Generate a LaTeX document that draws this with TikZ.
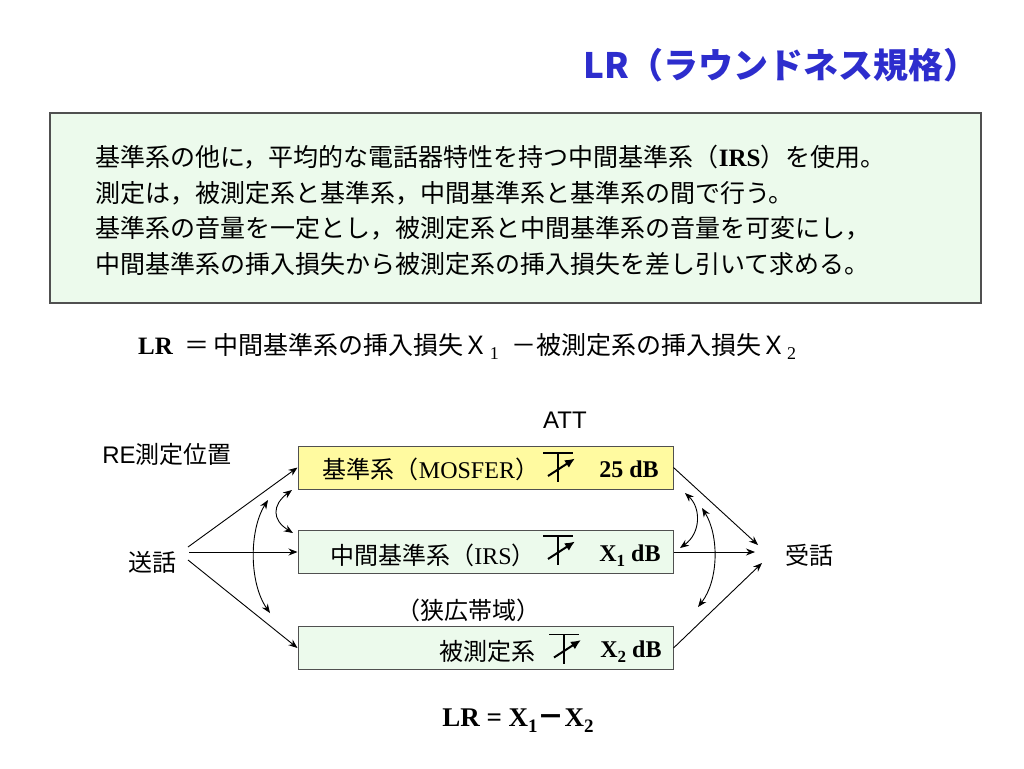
\documentclass[tikz,border=0pt]{standalone}
\usepackage{fontspec}
\setmainfont{Noto Sans CJK JP}
\newfontfamily\tnr{Liberation Serif}
\newfontfamily\arial{Liberation Sans}
\usetikzlibrary{arrows.meta}
\definecolor{titleblue}{RGB}{45,45,205}
\definecolor{boxgreen}{RGB}{236,250,236}
\definecolor{boxyellow}{RGB}{255,250,160}
\definecolor{edgegray}{RGB}{80,80,80}
\newcommand{\lowsub}[2]{\raisebox{-#2}{#1}}
\tikzset{
  sysbox/.style={draw=edgegray, line width=1pt, minimum width=375pt, minimum height=43pt, inner sep=0pt},
  lbl/.style={inner sep=0pt, anchor=base, font=\fontsize{24}{24}\selectfont},
  body/.style={inner sep=0pt, anchor=base west, font=\fontsize{25}{25}\selectfont},
  arr/.style={-{Stealth[length=9pt,width=7pt]}, line width=0.9pt},
  darr/.style={{Stealth[length=9pt,width=7pt]}-{Stealth[length=9pt,width=7pt]}, line width=0.9pt},
  att/.pic={
    \draw[line width=1.2pt] (-15,-14.5) -- (15,-14.5) (0,-14.5) -- (0,14.5);
    \draw[line width=2pt, -{Latex[length=10pt,width=9pt]}] (-10,8.5) -- (17,-9);
  }
}
\begin{document}
\begin{tikzpicture}[x=1pt,y=-1pt]
\path[use as bounding box, fill=white] (0,0) rectangle (1024,768);
% title
\node[inner sep=0pt, anchor=base west, font=\fontsize{35}{35}\selectfont\bfseries, text=titleblue] (title) at (583,78) {LR（ラウンドネス規格）};
% description box
\node[draw=edgegray, fill=boxgreen, line width=1.2pt, minimum width=931pt, minimum height=190pt, inner sep=0pt] (desc) at (515.5,208) {};
\node[body] (l1) at (95,166.5) {基準系の他に，平均的な電話器特性を持つ中間基準系（{\tnr\bfseries IRS}）を使用。};
\node[body] (l2) at (95,202.5) {測定は，被測定系と基準系，中間基準系と基準系の間で行う。};
\node[body] (l3) at (95,237.5) {基準系の音量を一定とし，被測定系と中間基準系の音量を可変にし，};
\node[body] (l4) at (95,273.5) {中間基準系の挿入損失から被測定系の挿入損失を差し引いて求める。};
% formula
\node[body] (f1) at (138,354) {{\tnr\bfseries LR}\hspace{12pt}＝\hspace{4pt}中間基準系の挿入損失Ｘ\hspace{1pt}{\tnr\fontsize{18}{18}\selectfont\lowsub{1}{5pt}}};
\node[body] (f2) at (511,354) {－被測定系の挿入損失Ｘ\hspace{1pt}{\tnr\fontsize{18}{18}\selectfont\lowsub{2}{5pt}}};
% boxes
\node[sysbox, fill=boxyellow] (box1) at (485.5,467.5) {};
\node[sysbox, fill=boxgreen] (box2) at (485.5,552) {};
\node[sysbox, fill=boxgreen] (box3) at (485.5,648) {};
\pic at (558,467.5) {att};
\pic at (558,550.5) {att};
\pic at (564,649) {att};
\node[lbl] (t1) at (431,478) {基準系（{\tnr MOSFER}）};
\node[lbl] (d1) at (629,477) {\tnr\bfseries 25 dB};
\node[lbl] (t2) at (433,564) {中間基準系（{\tnr IRS}）};
\node[lbl] (d2) at (630,561) {\tnr\bfseries X\lowsub{\fontsize{17}{17}\selectfont 1}{5pt} dB};
\node[lbl] (t3) at (487,660) {被測定系};
\node[lbl] (d3) at (631,657) {\tnr\bfseries X\lowsub{\fontsize{17}{17}\selectfont 2}{5pt} dB};
\node[lbl] (band) at (468,619) {（狭広帯域）};
\node[lbl] (att) at (565,428) {\arial ATT};
\node[lbl] (re) at (167,463) {{\arial RE}測定位置};
\node[lbl] (send) at (152,571) {送話};
\node[lbl] (recv) at (809,564) {受話};
% straight arrows
\coordinate (s1) at (188,547);
\coordinate (s2) at (189,552);
\coordinate (s3) at (188,560);
\coordinate (r1) at (758,545);
\coordinate (r2) at (755,552);
\coordinate (r3) at (762,563);
\draw[arr] (s1) -- (box1.west);
\draw[arr] (s2) -- (box2.west);
\draw[arr] (s3) -- (box3.west);
\draw[arr] (box1.east) -- (r1);
\draw[arr] (box2.east) -- (r2);
\draw[arr] (box3.east) -- (r3);
% curved double arrows
\coordinate (la1) at (292,490);
\coordinate (la2) at (293,533);
\coordinate (lb1) at (268,500);
\coordinate (lb2) at (270,613);
\coordinate (ra1) at (685,493);
\coordinate (ra2) at (680,548);
\coordinate (rb1) at (702,508);
\coordinate (rb2) at (698,607);
\draw[darr] (la1) .. controls (272,505) and (272,520) .. (la2);
\draw[darr] (lb1) .. controls (249,530) and (249,583) .. (lb2);
\draw[darr] (ra1) .. controls (701,508) and (701,533) .. (ra2);
\draw[darr] (rb1) .. controls (719,535) and (719,580) .. (rb2);
% bottom formula
\node[inner sep=0pt, anchor=base, font=\fontsize{27}{27}\selectfont] (lr) at (518,726) {{\tnr\bfseries LR = X\lowsub{\fontsize{19}{19}\selectfont 1}{6pt}}{\bfseries －}{\tnr\bfseries X\lowsub{\fontsize{19}{19}\selectfont 2}{6pt}}};
\end{tikzpicture}
\end{document}
